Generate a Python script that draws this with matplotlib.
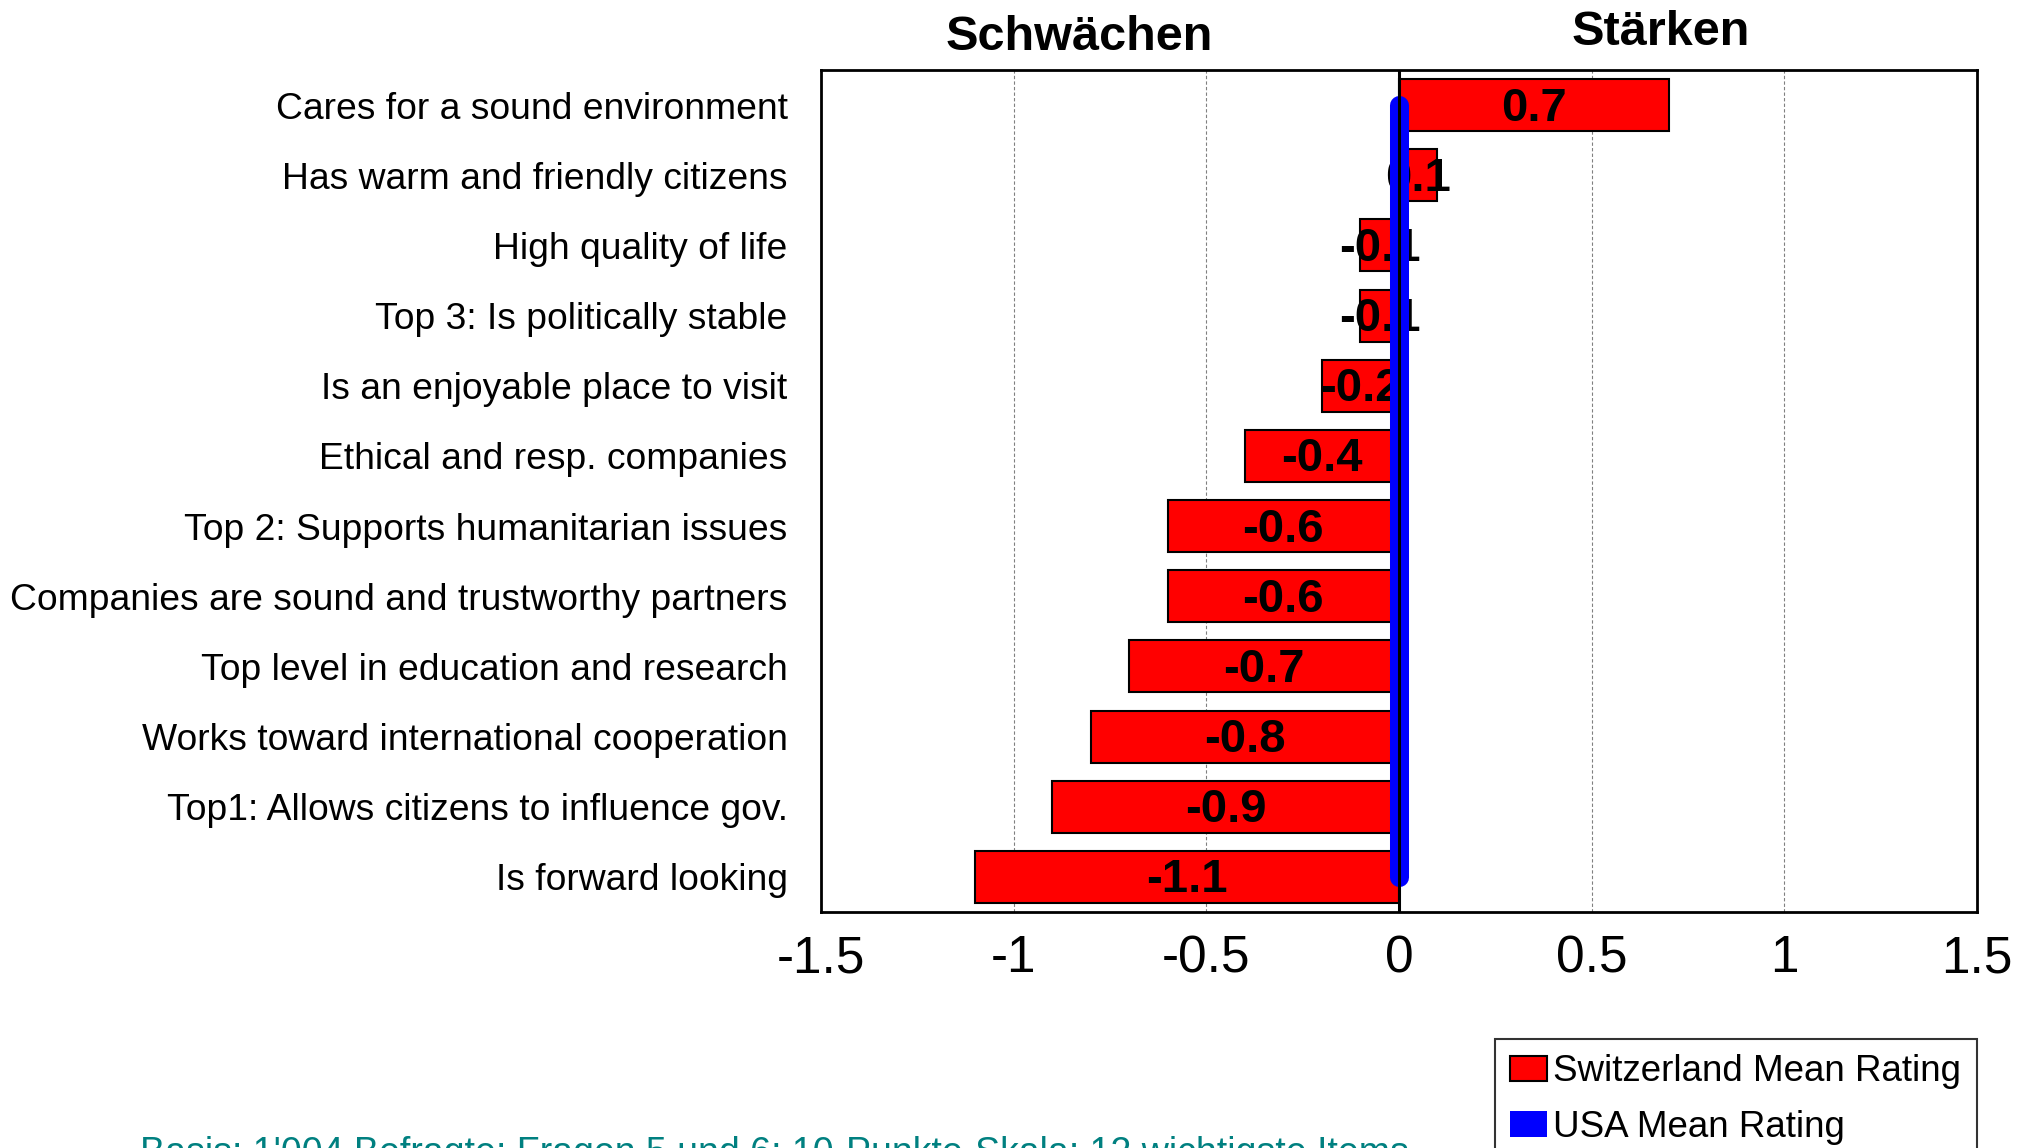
import matplotlib
matplotlib.use("Agg")
import matplotlib.pyplot as plt
from matplotlib.patches import Patch

plt.rcParams['font.family'] = ['Liberation Sans', 'DejaVu Sans']

# Daten (von oben nach unten)
items = [
    "Cares for a sound environment",
    "Has warm and friendly citizens",
    "High quality of life",
    "Top 3: Is politically stable",
    "Is an enjoyable place to visit",
    "Ethical and resp. companies",
    "Top 2: Supports humanitarian issues",
    "Companies are sound and trustworthy partners",
    "Top level in education and research",
    "Works toward international cooperation",
    "Top1: Allows citizens to influence gov.",
    "Is forward looking",
]
switzerland = [0.7, 0.1, -0.1, -0.1, -0.2, -0.4, -0.6, -0.6, -0.7, -0.8, -0.9, -1.1]
usa = [0, 0, 0, 0, 0, 0, 0, 0, 0, 0, 0, 0]
xticks = [-1.5, -1, -0.5, 0, 0.5, 1, 1.5]
xtick_labels = ["-1.5", "-1", "-0.5", "0", "0.5", "1", "1.5"]
footnote = "Basis: 1'004 Befragte; Fragen 5 und 6; 10-Punkte-Skala; 12 wichtigste Items"

fig = plt.figure(figsize=(20.36, 11.48), dpi=100)
ax = fig.add_axes([0.4032, 0.2056, 0.5678, 0.7334])

y = list(range(len(items)))

# Balken Schweiz
ax.barh(y, switzerland, height=0.74, color='red', edgecolor='black',
        linewidth=1.5, zorder=2)
for yi, v in zip(y, switzerland):
    ax.text(v / 2, yi + 0.05, f"{v:.1f}", ha='center', va='center',
            fontsize=34, fontweight='bold', zorder=3)

# USA als dicke Linie
ax.plot(usa, y, color='blue', linewidth=13.7, solid_capstyle='round', zorder=4)
ax.axvline(0, color='black', linewidth=2.2, zorder=5)

ax.set_xlim(-1.5, 1.5)
ax.set_ylim(len(items) - 0.5, -0.5)
ax.set_xticks(xticks)
ax.set_xticklabels(xtick_labels, fontsize=37)
ax.set_yticks(y)
ax.set_yticklabels(items, fontsize=26.8)
ax.tick_params(axis='x', length=0, pad=16)
ax.tick_params(axis='y', length=0, pad=24)
ax.xaxis.grid(True, linestyle=(0, (3, 2)), color='gray', linewidth=0.8, zorder=0)
ax.set_axisbelow(True)
for s in ax.spines.values():
    s.set_linewidth(2)

# Überschriften
x0 = ax.transData.transform((-0.83, 0))[0] / fig.bbox.width
x1 = ax.transData.transform((0.68, 0))[0] / fig.bbox.width
fig.text(x0, 1 - 50 / 1148, "Schwächen", ha='center', va='baseline',
         fontsize=35, fontweight='bold')
fig.text(x1, 1 - 45 / 1148, "Stärken", ha='center', va='baseline',
         fontsize=35, fontweight='bold')

handles = [Patch(facecolor='red', edgecolor='black', linewidth=1.5),
           Patch(facecolor='blue', edgecolor='none')]
leg = fig.legend(handles, ["Switzerland Mean Rating", "USA Mean Rating"],
                 loc='upper left',
                 bbox_to_anchor=(0.7343, 1 - 1039 / 1148 - 0.2, 0.2366, 0.2),
                 mode='expand',
                 fontsize=26.5, frameon=True, fancybox=False, borderaxespad=0,
                 handlelength=1.0, handleheight=0.7, handletextpad=0.15,
                 borderpad=0.42, labelspacing=0.55)
leg.get_frame().set_edgecolor('black')
leg.get_frame().set_linewidth(1.5)

fig.text(140 / 2036, -16 / 1148, footnote, ha='left', va='baseline',
         fontsize=27, color='#008080')

fig.savefig("out.png", dpi=100)
